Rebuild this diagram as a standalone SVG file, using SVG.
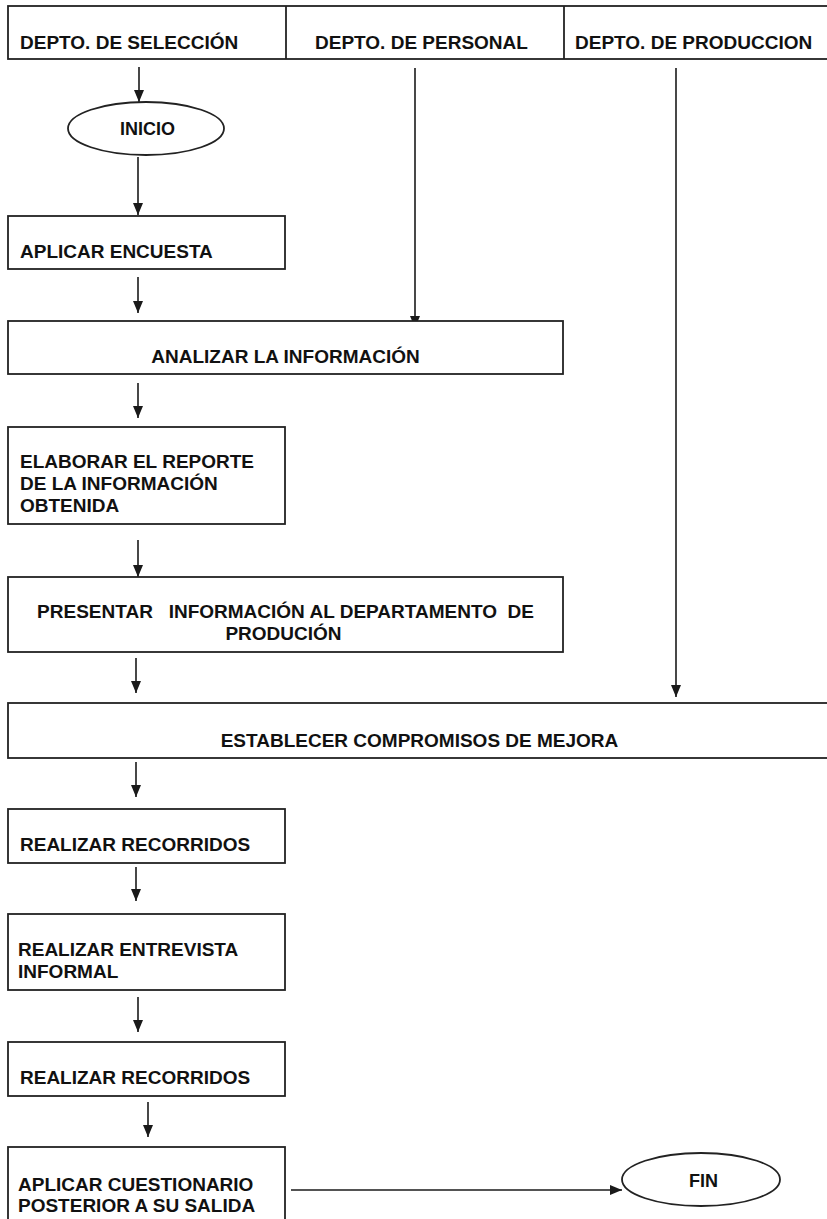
<svg xmlns="http://www.w3.org/2000/svg" width="827" height="1219" viewBox="0 0 827 1219">
<defs>
<marker id="ah" viewBox="0 0 12 10" refX="12" refY="5" markerWidth="12" markerHeight="10" markerUnits="userSpaceOnUse" orient="auto">
<path d="M0,0 L12,5 L0,10 z" fill="#1a1a1a"/>
</marker>
<style>
.b{fill:#fff;stroke:#222;stroke-width:1.8}
.t{font-family:"Liberation Sans",Arial,sans-serif;font-weight:bold;font-size:19px;fill:#111}
.m{text-anchor:middle}
.c{fill:none;stroke:#1a1a1a;stroke-width:1.6;marker-end:url(#ah)}
.l{stroke:#222;stroke-width:1.8}
</style>
</defs>
<rect width="827" height="1219" fill="#fff"/>
<g id="header">
<rect class="b" x="8" y="6" width="830" height="53"/>
<line class="l" x1="286" y1="6" x2="286" y2="59"/>
<line class="l" x1="564" y1="6" x2="564" y2="59"/>
<text class="t" x="20" y="49">DEPTO. DE SELECCIÓN</text>
<text class="t" x="315" y="49">DEPTO. DE PERSONAL</text>
<text class="t" x="575" y="49">DEPTO. DE PRODUCCION</text>
</g>
<g id="connectors">
<line class="c" x1="139" y1="67" x2="139" y2="102"/>
<line class="c" x1="138" y1="157" x2="138" y2="215"/>
<line class="c" x1="138" y1="277" x2="138" y2="313"/>
<line class="c" x1="415" y1="68" x2="415" y2="328"/>
<line class="c" x1="138" y1="383" x2="138" y2="418"/>
<line class="c" x1="138" y1="540" x2="138" y2="577"/>
<line class="c" x1="136" y1="658" x2="136" y2="693"/>
<line class="c" x1="676" y1="68" x2="676" y2="697"/>
<line class="c" x1="136" y1="762" x2="136" y2="797"/>
<line class="c" x1="136" y1="867" x2="136" y2="901"/>
<line class="c" x1="138" y1="997" x2="138" y2="1032"/>
<line class="c" x1="148" y1="1102" x2="148" y2="1137"/>
<line class="c" x1="291" y1="1190" x2="622" y2="1190"/>
</g>
<g id="inicio">
<ellipse class="b" cx="146" cy="128.5" rx="78" ry="26.5"/>
<text class="t m" x="147.5" y="135" style="font-size:18px">INICIO</text>
</g>
<g id="aplicar-encuesta">
<rect class="b" x="8" y="216" width="277" height="53"/>
<text class="t" x="20" y="258">APLICAR ENCUESTA</text>
</g>
<g id="analizar">
<rect class="b" x="8" y="321" width="555" height="53"/>
<text class="t m" x="285.5" y="363">ANALIZAR LA INFORMACIÓN</text>
</g>
<g id="elaborar">
<rect class="b" x="8" y="427" width="277" height="97"/>
<text class="t" x="20" y="468">ELABORAR EL REPORTE</text>
<text class="t" x="20" y="490">DE LA INFORMACIÓN</text>
<text class="t" x="20" y="512">OBTENIDA</text>
</g>
<g id="presentar">
<rect class="b" x="8" y="577" width="555" height="75"/>
<text class="t m" x="285.5" y="618" xml:space="preserve" style="white-space:pre">PRESENTAR   INFORMACIÓN AL DEPARTAMENTO  DE</text>
<text class="t m" x="283.5" y="640">PRODUCIÓN</text>
</g>
<g id="establecer">
<rect class="b" x="8" y="703" width="830" height="55"/>
<text class="t m" x="419.5" y="747">ESTABLECER COMPROMISOS DE MEJORA</text>
</g>
<g id="recorridos-1">
<rect class="b" x="8" y="809" width="277" height="54"/>
<text class="t" x="20" y="851">REALIZAR RECORRIDOS</text>
</g>
<g id="entrevista">
<rect class="b" x="8" y="914" width="277" height="76"/>
<text class="t" x="18" y="956">REALIZAR ENTREVISTA</text>
<text class="t" x="18" y="978">INFORMAL</text>
</g>
<g id="recorridos-2">
<rect class="b" x="8" y="1042" width="277" height="54"/>
<text class="t" x="20" y="1084">REALIZAR RECORRIDOS</text>
</g>
<g id="cuestionario">
<rect class="b" x="8" y="1147" width="277" height="85"/>
<text class="t" x="18" y="1191">APLICAR CUESTIONARIO</text>
<text class="t" x="18" y="1212">POSTERIOR A SU SALIDA</text>
</g>
<g id="fin">
<ellipse class="b" cx="701" cy="1179.5" rx="79" ry="26.5"/>
<text class="t m" x="703.5" y="1187" style="font-size:18px">FIN</text>
</g>
</svg>
